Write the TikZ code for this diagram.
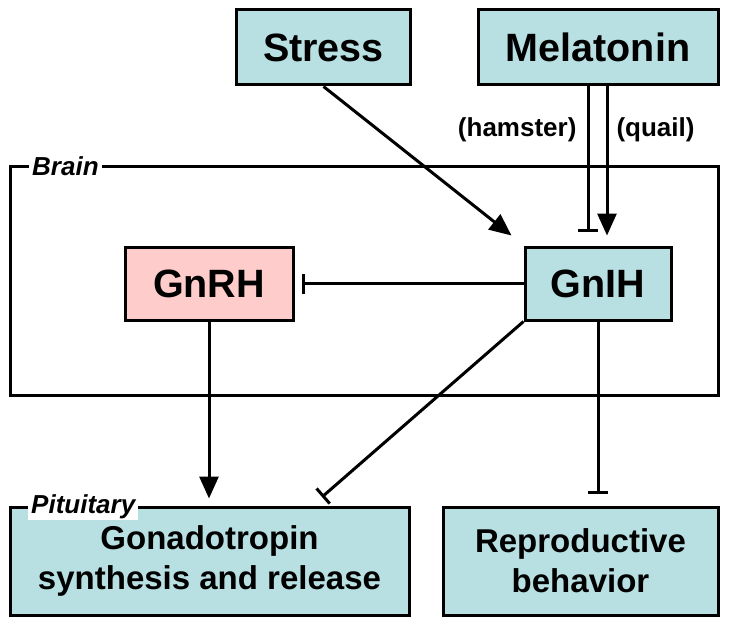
\documentclass[tikz,border=0pt]{standalone}
\usepackage{fontspec}
\setmainfont{Liberation Sans}
\usetikzlibrary{arrows.meta}
\definecolor{teal1}{RGB}{184,223,226}
\definecolor{pink1}{RGB}{255,204,204}
\tikzset{
  box/.style={draw=black, line width=3pt, fill=teal1, rectangle, inner sep=0pt, align=center},
  big/.style={font=\fontsize{39.5}{46}\selectfont\bfseries},
  mid/.style={font=\fontsize{33}{40}\selectfont\bfseries},
  lab/.style={font=\fontsize{26}{30}\selectfont\bfseries},
  region/.style={fill=white, inner xsep=3pt, inner ysep=1pt, font=\fontsize{26}{30}\selectfont\bfseries\itshape},
  act/.style={line width=3pt, -{Triangle[length=22pt,width=19pt]}},
  inh/.style={line width=3pt, -{Bar[width=20pt]}}
}
\begin{document}
\begin{tikzpicture}[x=1pt,y=-1pt]
\useasboundingbox (0,0) rectangle (729,626);
% Brain region
\draw[line width=3pt] (10,166) rectangle (718,395);
\node[region, anchor=west] (brainlab) at (29,166) {Brain};
% boxes
\node[box, big, minimum width=174pt, minimum height=75pt] (stress) at (323.5,47.5) {Stress};
\node[box, big, minimum width=240pt, minimum height=75pt] (mel) at (598,47.5) {Melatonin};
\node[box, big, fill=pink1, minimum width=168pt, minimum height=73pt] (gnrh) at (209,283.5) {GnRH};
\node[box, big, minimum width=146pt, minimum height=73pt] (gnih) at (598,283.5) {GnIH};
\node[box, mid, minimum width=399pt, minimum height=108pt] (gonad) at (209.5,561) {Gonadotropin\\synthesis and release};
\node[box, mid, minimum width=275pt, minimum height=108pt] (repro) at (580.5,561) {Reproductive\\behavior};
\node[region, anchor=west] (pitlab) at (28,507) {Pituitary};
% labels
\node[lab, anchor=east] (ham) at (580,130) {(hamster)};
\node[lab, anchor=west] (quail) at (613,130) {(quail)};
% connectors
\coordinate (mx1) at (588,0);
\coordinate (mx2) at (607,0);
\coordinate (gt) at (322,497);
\draw[act] (stress.south) -- ([xshift=-12pt,yshift=10pt]gnih.north west);
\draw[inh, shorten >=14pt] (mx1 |- mel.south) -- (mx1 |- gnih.north);
\draw[act, shorten >=10pt] (mx2 |- mel.south) -- (mx2 |- gnih.north);
\draw[inh, shorten >=7pt] (gnih.west) -- (gnrh.east);
\draw[act, shorten >=7pt] (gnrh.south) -- (gonad.north -| gnrh.south);
\draw[inh] (gnih.south west) -- (gt);
\draw[inh, shorten >=12pt] (gnih.south) -- (repro.north -| gnih.south);
\end{tikzpicture}
\end{document}
